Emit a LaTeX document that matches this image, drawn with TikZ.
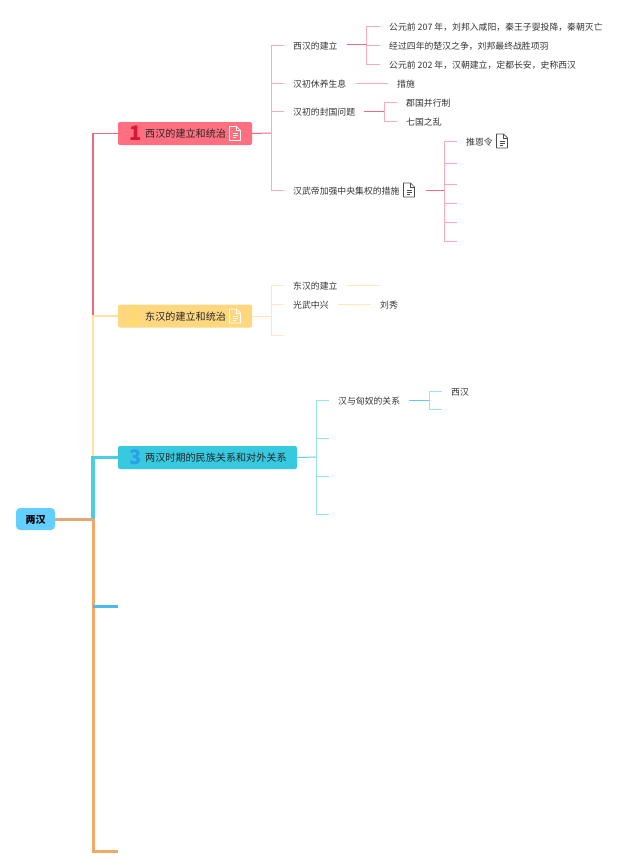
\documentclass[tikz,border=0pt]{standalone}
\usepackage{fontspec}
\setmainfont{Noto Sans CJK SC}
\usetikzlibrary{positioning}

\definecolor{redbox}{HTML}{FF6F7F}
\definecolor{redstem}{HTML}{EE6A7E}
\definecolor{redtwig}{HTML}{F8ACBA}
\definecolor{rednum}{HTML}{D8153A}
\definecolor{yellowbox}{HTML}{FFD77F}
\definecolor{yellowstem}{HTML}{FFE3A6}
\definecolor{yellowtwig}{HTML}{FFE9BC}
\definecolor{yellownum}{HTML}{FFDD6B}
\definecolor{cyanbox}{HTML}{36C9E0}
\definecolor{cyanstem}{HTML}{5AD0E4}
\definecolor{cyantwig}{HTML}{9BE3EE}
\definecolor{cyannum}{HTML}{2AA0E8}
\definecolor{rootbox}{HTML}{62CFFF}
\definecolor{orangeline}{HTML}{F4A868}
\definecolor{rootline}{HTML}{E2A878}
\definecolor{blueline}{HTML}{4BBCEB}

\tikzset{
    pics/docicon/.style={code={
        \draw[draw=#1, line width=0.7pt, line join=round]
            (-5.5,-7) -- (1.5,-7) -- (5.5,-3) -- (5.5,7) -- (-5.5,7) -- cycle;
        \draw[draw=#1, line width=0.5pt] (1.5,-7) -- (1.5,-3) -- (5.5,-3);
        \draw[draw=#1, line width=0.5pt] (-2.5,0) -- (3,0) (-2.5,2) -- (3,2) (-2.5,4) -- (1,4);
    }},
}

\begin{document}
\begin{tikzpicture}[
    x=1pt, y=-1pt,
    rootnode/.style={rectangle, fill=rootbox, rounded corners=4pt, minimum width=39pt,
                     minimum height=22pt, inner sep=0pt, text height=9.5pt, text depth=0pt,
                     font=\fontsize{10}{12}\selectfont\bfseries},
    topbox/.style={rectangle, fill=#1, rounded corners=2pt, minimum height=23pt, inner sep=0pt},
    toptext/.style={anchor=west, inner sep=0pt, text height=9pt, text depth=0.5pt,
                    text=black!85, font=\fontsize{10.1}{12}\selectfont},
    topnum/.style={inner sep=0pt, text=#1, font=\fontsize{20}{22}\selectfont\bfseries},
    sub/.style={anchor=west, inner xsep=9pt, inner ysep=0pt, text height=9pt, text depth=0.5pt,
                text=black!80, font=\fontsize{8.85}{11}\selectfont},
    stem/.style={draw=#1, line width=1pt},
    twig/.style={draw=#1, line width=0.9pt},
]

% Root
\node[rootnode] (root) at (35.5,519) {两汉};

% --- Main boxes ---
\node[topbox=redbox, minimum width=134pt] (b1) at (185,133.5) {};
\node[topnum=rednum] (n1) at (135.5,133) {1};
\node[toptext] (t1) at (145,133.5) {西汉的建立和统治};
\pic at (235,133.5) {docicon=white};

\node[topbox=yellowbox, minimum width=134pt] (b2) at (185,316) {};
\node[topnum=yellownum] (n2) at (134,316) {2};
\node[toptext] (t2) at (145,316) {东汉的建立和统治};
\pic at (235,316) {docicon=white};

\node[topbox=cyanbox, minimum width=179pt] (b3) at (207.5,457.5) {};
\node[topnum=cyannum] (n3) at (136,457) {3};
\node[toptext] (t3) at (145,457.5) {两汉时期的民族关系和对外关系};

% --- Trunk ---
\coordinate (trunk) at (93,519);
\coordinate (k2) at (93,316);
\coordinate (k3) at (93,457);
\coordinate (k4) at (93,606);
\coordinate (e4) at (118,606);
\coordinate (e5) at (118,851);

\draw[draw=redstem, line width=1.1pt] (b1.west) -| (k2);
\draw[draw=yellowstem, line width=1.1pt] (b2.west) -| (k3);
\draw[draw=cyanbox!90!white, line width=3.2pt] (b3.west) -| (trunk);
\draw[draw=orangeline, line width=3pt] (trunk) |- (e5);
\draw[draw=blueline, line width=3pt] (k4) -- (e4);
\draw[draw=rootline, line width=3pt] (root.east) -- (trunk);

% --- Branch 1 ---
\node[sub] (s1) at (284,45) {西汉的建立};
\node[sub] (s2) at (284,83) {汉初休养生息};
\node[sub] (s3) at (284,111) {汉初的封国问题};
\node[sub] (s4) at (284,190) {汉武帝加强中央集权的措施\rule{17pt}{0pt}};
\pic at (409,190) {docicon=black!70};

\node[sub] (l1) at (380,26) {公元前 207 年，刘邦入咸阳，秦王子婴投降，秦朝灭亡};
\node[sub] (l2) at (380,45) {经过四年的楚汉之争，刘邦最终战胜项羽};
\node[sub] (l3) at (380,64) {公元前 202 年，汉朝建立，定都长安，史称西汉};
\node[sub] (l4) at (388,83) {措施};
\node[sub] (l5) at (397,102) {郡国并行制};
\node[sub] (l6) at (397,121) {七国之乱};
\node[sub] (l7) at (457,141) {推恩令};
\pic at (502,141) {docicon=black!70};

\coordinate (j0) at (271,133);
\coordinate (j1) at (366,45);
\coordinate (j3) at (384,111);
\coordinate (j4) at (444,190);

\draw[stem=redstem] (b1.east) -- (j0);
\foreach \n in {s1,s2,s3,s4} \draw[twig=redtwig] (j0) |- (\n.west);

\draw[stem=redstem] (s1.east) -- (j1);
\foreach \n in {l1,l2,l3} \draw[twig=redtwig] (j1) |- (\n.west);

\draw[twig=redtwig] (s2.east) -- (l4.west);

\draw[stem=redstem] (s3.east) -- (j3);
\foreach \n in {l5,l6} \draw[twig=redtwig] (j3) |- (\n.west);

\draw[stem=redstem] (s4.east) -- (j4);
\draw[twig=redtwig] (j4) |- (l7.west);
\foreach \y [count=\i] in {163,184,203,222,241} {
    \coordinate (d\i) at (457,\y);
    \draw[twig=redtwig] (j4) |- (d\i);
}

% --- Branch 2 ---
\node[sub] (s5) at (284,285.5) {东汉的建立};
\node[sub] (s6) at (284,304.5) {光武中兴};
\node[sub] (l8) at (371,304.5) {刘秀};
\coordinate (j5) at (271,316);
\coordinate (d6) at (284,335);
\coordinate (d7) at (380,285.5);

\draw[stem=yellowstem] (b2.east) -- (j5);
\foreach \n in {s5.west,s6.west,d6} \draw[twig=yellowtwig] (j5) |- (\n);
\draw[twig=yellowtwig] (s5.east) -- (d7);
\draw[twig=yellowtwig] (s6.east) -- (l8.west);

% --- Branch 3 ---
\node[sub] (s7) at (329,400) {汉与匈奴的关系};
\node[sub] (l9) at (442,391) {西汉};
\coordinate (j6) at (316,457);
\coordinate (j7) at (429,400);
\coordinate (d8) at (442,409);

\draw[stem=cyanstem] (b3.east) -- (j6);
\draw[twig=cyantwig] (j6) |- (s7.west);
\foreach \y [count=\i] in {438,476,514} {
    \coordinate (f\i) at (329,\y);
    \draw[twig=cyantwig] (j6) |- (f\i);
}
\draw[stem=cyanstem] (s7.east) -- (j7);
\draw[twig=cyantwig] (j7) |- (l9.west);
\draw[twig=cyantwig] (j7) |- (d8);

\useasboundingbox (0,0) rectangle (640,867);
\end{tikzpicture}
\end{document}
